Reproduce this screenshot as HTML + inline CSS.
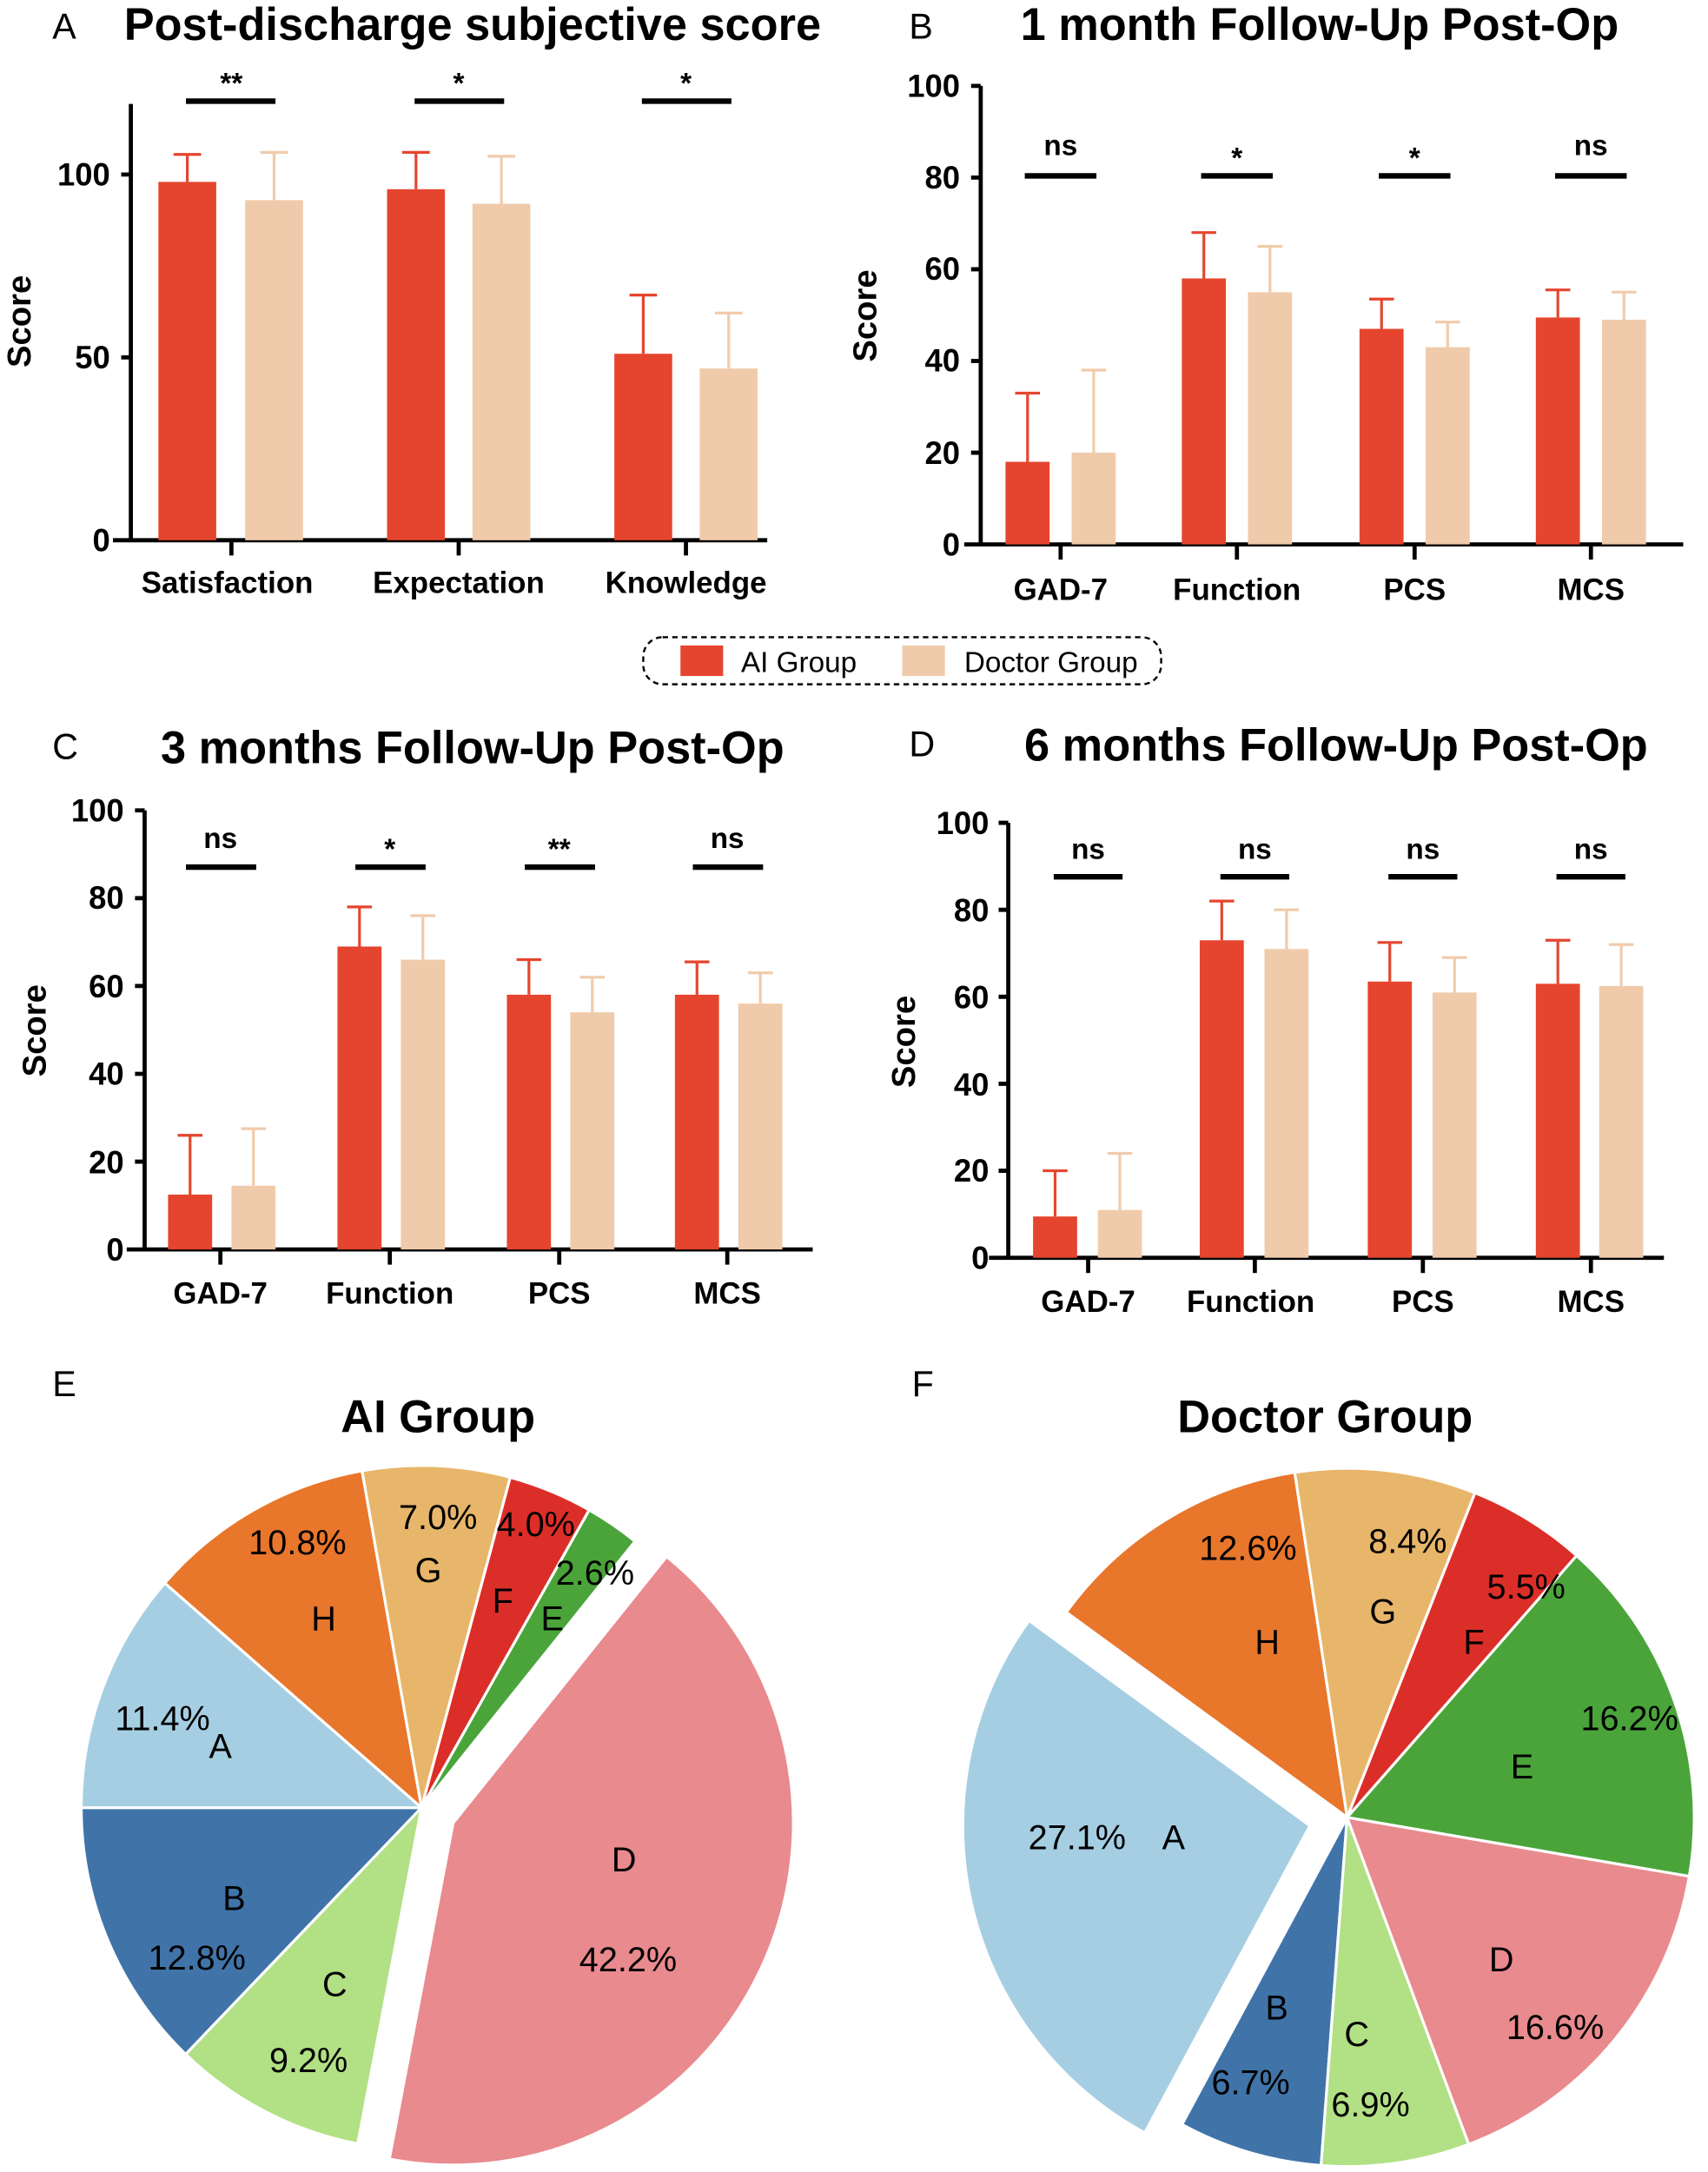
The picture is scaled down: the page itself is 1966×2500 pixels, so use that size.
<!DOCTYPE html>
<html><head><meta charset="utf-8"><style>
html,body{margin:0;padding:0;background:#fff}
svg{display:block}
text{font-family:"Liberation Sans",Arial,sans-serif}
.t{font-weight:bold;font-size:33px}
.pl{font-size:26px}
.tk{font-weight:bold;font-size:23px;text-anchor:end}
.cl{font-weight:bold;font-size:22px;text-anchor:middle}
.sc{font-weight:bold;font-size:24px;text-anchor:middle}
.sg{font-size:21px;font-weight:bold;text-anchor:middle}
.pt{font-size:25px;text-anchor:middle}
.a{fill:#e5452e}.d{fill:#f0cbab}
.ea{stroke:#e5452e;stroke-width:2;fill:none}.ed{stroke:#f0cbab;stroke-width:2;fill:none}
.ax{stroke:#000;stroke-width:3;fill:none}
.sl{stroke:#000;stroke-width:4}
</style></head><body>
<svg width="1966" height="2500" viewBox="0 0 1240 1568" preserveAspectRatio="none" xmlns="http://www.w3.org/2000/svg">
<!-- Panel A -->
<text x="38" y="28" class="pl">A</text>
<text x="90" y="29" class="t">Post-discharge subjective score</text>
<path class="ax" d="M95 75V390M82 390H557M88 126H95M88 258H95M168 390V401M333 390V401M498 390V401"/>
<text x="80" y="134" class="tk">100</text><text x="80" y="266" class="tk">50</text><text x="80" y="398" class="tk">0</text>
<text class="sc" transform="translate(22,232) rotate(-90)">Score</text>
<text x="165" y="428" class="cl">Satisfaction</text><text x="333" y="428" class="cl">Expectation</text><text x="498" y="428" class="cl">Knowledge</text>
<rect class="a" x="115" y="131.3" width="42" height="258.7"/><path class="ea" d="M136 131.3V111.5M126 111.5H146"/>
<rect class="d" x="178" y="144.5" width="42" height="245.5"/><path class="ed" d="M199 144.5V110M189 110H209"/>
<rect class="a" x="281" y="136.6" width="42" height="253.4"/><path class="ea" d="M302 136.6V110M292 110H312"/>
<rect class="d" x="343" y="147.1" width="42" height="242.9"/><path class="ed" d="M364 147.1V112.8M354 112.8H374"/>
<rect class="a" x="446" y="255.4" width="42" height="134.6"/><path class="ea" d="M467 255.4V213M457 213H477"/>
<rect class="d" x="508" y="266" width="42" height="124"/><path class="ed" d="M529 266V226M519 226H539"/>
<path class="sl" d="M135 73H200M301 73H366M466 73H531"/>
<text x="168" y="67" class="sg">**</text><text x="333" y="67" class="sg">*</text><text x="498" y="67" class="sg">*</text>

<!-- Panel B -->
<text x="660" y="28" class="pl">B</text>
<text x="958" y="29" class="t" text-anchor="middle">1 month Follow-Up Post-Op</text>
<path class="ax" d="M712 62V393M700 393H1222M705 62H712M705 128.2H712M705 194.4H712M705 260.6H712M705 326.8H712M770 393V404M898 393V404M1027 393V404M1155 393V404"/>
<text x="697" y="70" class="tk">100</text><text x="697" y="136" class="tk">80</text><text x="697" y="202" class="tk">60</text><text x="697" y="268" class="tk">40</text><text x="697" y="335" class="tk">20</text><text x="697" y="401" class="tk">0</text>
<text class="sc" transform="translate(636,228) rotate(-90)">Score</text>
<text x="770" y="433" class="cl">GAD-7</text><text x="898" y="433" class="cl">Function</text><text x="1027" y="433" class="cl">PCS</text><text x="1155" y="433" class="cl">MCS</text>
<rect class="a" x="730" y="333.4" width="32" height="59.6"/><path class="ea" d="M746 333.4V283.8M737 283.8H755"/>
<rect class="d" x="778" y="326.8" width="32" height="66.2"/><path class="ed" d="M794 326.8V267.2M785 267.2H803"/>
<rect class="a" x="858" y="201" width="32" height="192"/><path class="ea" d="M874 201V167.9M865 167.9H883"/>
<rect class="d" x="906" y="211" width="32" height="182"/><path class="ed" d="M922 211V177.9M913 177.9H931"/>
<rect class="a" x="987" y="237.4" width="32" height="155.6"/><path class="ea" d="M1003 237.4V215.9M994 215.9H1012"/>
<rect class="d" x="1035" y="250.7" width="32" height="142.3"/><path class="ed" d="M1051 250.7V232.5M1042 232.5H1060"/>
<rect class="a" x="1115" y="229.2" width="32" height="163.8"/><path class="ea" d="M1131 229.2V209.3M1122 209.3H1140"/>
<rect class="d" x="1163" y="230.8" width="32" height="162.2"/><path class="ed" d="M1179 230.8V210.9M1170 210.9H1188"/>
<path class="sl" d="M744 127H796M872 127H924M1001 127H1053M1129 127H1181"/>
<text x="770" y="112" class="sg">ns</text><text x="898" y="121" class="sg">*</text><text x="1027" y="121" class="sg">*</text><text x="1155" y="112" class="sg">ns</text>

<!-- Legend -->
<rect x="467" y="460" width="376" height="34" rx="14" fill="none" stroke="#000" stroke-width="1.5" stroke-dasharray="4,3"/>
<rect x="494" y="466" width="31" height="22" class="a"/><text x="538" y="485" style="font-size:21px">AI Group</text>
<rect x="655" y="466" width="31" height="22" class="d"/><text x="700" y="485" style="font-size:21px">Doctor Group</text>

<!-- Panel C -->
<text x="38" y="548" class="pl">C</text>
<text x="343" y="551" class="t" text-anchor="middle">3 months Follow-Up Post-Op</text>
<path class="ax" d="M105 585V902M92 902H590M98 585H105M98 648.4H105M98 711.8H105M98 775.2H105M98 838.6H105M160 902V913M283 902V913M406 902V913M528 902V913"/>
<text x="90" y="593" class="tk">100</text><text x="90" y="656" class="tk">80</text><text x="90" y="720" class="tk">60</text><text x="90" y="783" class="tk">40</text><text x="90" y="847" class="tk">20</text><text x="90" y="910" class="tk">0</text>
<text class="sc" transform="translate(33,744) rotate(-90)">Score</text>
<text x="160" y="941" class="cl">GAD-7</text><text x="283" y="941" class="cl">Function</text><text x="406" y="941" class="cl">PCS</text><text x="528" y="941" class="cl">MCS</text>
<rect class="a" x="122" y="862.4" width="32" height="39.6"/><path class="ea" d="M138 862.4V819.6M129 819.6H147"/>
<rect class="d" x="168" y="856" width="32" height="46"/><path class="ed" d="M184 856V814.8M175 814.8H193"/>
<rect class="a" x="245" y="683.3" width="32" height="218.7"/><path class="ea" d="M261 683.3V654.7M252 654.7H270"/>
<rect class="d" x="291" y="692.8" width="32" height="209.2"/><path class="ed" d="M307 692.8V661M298 661H316"/>
<rect class="a" x="368" y="718.1" width="32" height="183.9"/><path class="ea" d="M384 718.1V692.8M375 692.8H393"/>
<rect class="d" x="414" y="730.8" width="32" height="171.2"/><path class="ed" d="M430 730.8V705.5M421 705.5H439"/>
<rect class="a" x="490" y="718.1" width="32" height="183.9"/><path class="ea" d="M506 718.1V694.4M497 694.4H515"/>
<rect class="d" x="536" y="724.5" width="32" height="177.5"/><path class="ed" d="M552 724.5V702.3M543 702.3H561"/>
<path class="sl" d="M135 626H186M258 626H309M381 626H432M503 626H554"/>
<text x="160" y="612" class="sg">ns</text><text x="283" y="620" class="sg">*</text><text x="406" y="620" class="sg">**</text><text x="528" y="612" class="sg">ns</text>

<!-- Panel D -->
<text x="660" y="546" class="pl">D</text>
<text x="970" y="549" class="t" text-anchor="middle">6 months Follow-Up Post-Op</text>
<path class="ax" d="M732 594V908M718 908H1208M725 594H732M725 656.8H732M725 719.6H732M725 782.4H732M725 845.2H732M790 908V919M911 908V919M1033 908V919M1155 908V919"/>
<text x="718" y="602" class="tk">100</text><text x="718" y="665" class="tk">80</text><text x="718" y="728" class="tk">60</text><text x="718" y="791" class="tk">40</text><text x="718" y="853" class="tk">20</text><text x="718" y="916" class="tk">0</text>
<text class="sc" transform="translate(664,752) rotate(-90)">Score</text>
<text x="790" y="947" class="cl">GAD-7</text><text x="908" y="947" class="cl">Function</text><text x="1033" y="947" class="cl">PCS</text><text x="1155" y="947" class="cl">MCS</text>
<rect class="a" x="750" y="878.2" width="32" height="29.8"/><path class="ea" d="M766 878.2V845.2M757 845.2H775"/>
<rect class="d" x="797" y="873.5" width="32" height="34.5"/><path class="ed" d="M813 873.5V832.6M804 832.6H822"/>
<rect class="a" x="871" y="678.8" width="32" height="229.2"/><path class="ea" d="M887 678.8V650.5M878 650.5H896"/>
<rect class="d" x="918" y="685.1" width="32" height="222.9"/><path class="ed" d="M934 685.1V656.8M925 656.8H943"/>
<rect class="a" x="993" y="708.6" width="32" height="199.4"/><path class="ea" d="M1009 708.6V680.4M1000 680.4H1018"/>
<rect class="d" x="1040" y="716.5" width="32" height="191.5"/><path class="ed" d="M1056 716.5V691.3M1047 691.3H1065"/>
<rect class="a" x="1115" y="710.2" width="32" height="197.8"/><path class="ea" d="M1131 710.2V678.8M1122 678.8H1140"/>
<rect class="d" x="1161" y="711.8" width="32" height="196.2"/><path class="ed" d="M1177 711.8V681.9M1168 681.9H1186"/>
<path class="sl" d="M765 633H815M886 633H936M1008 633H1058M1130 633H1180"/>
<text x="790" y="620" class="sg">ns</text><text x="911" y="620" class="sg">ns</text><text x="1033" y="620" class="sg">ns</text><text x="1155" y="620" class="sg">ns</text>

<!-- Pie E -->
<text x="38" y="1008" class="pl">E</text>
<text x="318" y="1034" class="t" text-anchor="middle">AI Group</text>
<g stroke="#fff" stroke-width="2">
<path fill="#4074a9" d="M306 1305L59 1305A247 247 0 0 0 134.8 1483Z"/>
<path fill="#b2e085" d="M306 1305L134.8 1483A247 247 0 0 0 259.7 1547.6Z"/>
<path fill="#e98a8e" d="M329 1316L282.7 1558.6A247 247 0 0 0 484 1123.7Z"/>
<path fill="#4aa43a" d="M306 1305L461 1112.7A247 247 0 0 0 427.7 1090.1Z"/>
<path fill="#dc2e28" d="M306 1305L427.7 1090.1A247 247 0 0 0 370.4 1066.5Z"/>
<path fill="#e8b66a" d="M306 1305L370.4 1066.5A247 247 0 0 0 262.8 1061.8Z"/>
<path fill="#e8762b" d="M306 1305L262.8 1061.8A247 247 0 0 0 119.6 1142.9Z"/>
<path fill="#a6cee3" d="M306 1305L119.6 1142.9A247 247 0 0 0 59 1305Z"/>
</g>
<text x="216" y="1122" class="pt">10.8%</text><text x="235" y="1177" class="pt">H</text>
<text x="318" y="1104" class="pt">7.0%</text><text x="311" y="1142" class="pt">G</text>
<text x="389" y="1109" class="pt">4.0%</text><text x="365" y="1164" class="pt">F</text>
<text x="432" y="1144" class="pt">2.6%</text><text x="401" y="1177" class="pt">E</text>
<text x="118" y="1249" class="pt">11.4%</text><text x="160" y="1269" class="pt">A</text>
<text x="170" y="1379" class="pt">B</text><text x="143" y="1422" class="pt">12.8%</text>
<text x="243" y="1441" class="pt">C</text><text x="224" y="1496" class="pt">9.2%</text>
<text x="453" y="1351" class="pt">D</text><text x="456" y="1423" class="pt">42.2%</text>

<!-- Pie F -->
<text x="662" y="1008" class="pl">F</text>
<text x="962" y="1034" class="t" text-anchor="middle">Doctor Group</text>
<g stroke="#fff" stroke-width="2">
<path fill="#a6cee3" d="M951 1318L747.1 1169.9A252 252 0 0 0 831.1 1539.7Z"/>
<path fill="#4074a9" d="M978 1312L858.1 1533.7A252 252 0 0 0 959.1 1563.3Z"/>
<path fill="#b2e085" d="M978 1312L959.1 1563.3A252 252 0 0 0 1066.3 1548Z"/>
<path fill="#e98a8e" d="M978 1312L1066.3 1548A252 252 0 0 0 1226.4 1354.5Z"/>
<path fill="#4aa43a" d="M978 1312L1226.4 1354.5A252 252 0 0 0 1144.6 1123Z"/>
<path fill="#dc2e28" d="M978 1312L1144.6 1123A252 252 0 0 0 1070.8 1077.7Z"/>
<path fill="#e8b66a" d="M978 1312L1070.8 1077.7A252 252 0 0 0 939.9 1062.9Z"/>
<path fill="#e8762b" d="M978 1312L939.9 1062.9A252 252 0 0 0 774.1 1163.9Z"/>
</g>
<text x="906" y="1126" class="pt">12.6%</text><text x="920" y="1194" class="pt">H</text>
<text x="1022" y="1121" class="pt">8.4%</text><text x="1004" y="1172" class="pt">G</text>
<text x="1108" y="1154" class="pt">5.5%</text><text x="1070" y="1194" class="pt">F</text>
<text x="1183" y="1249" class="pt">16.2%</text><text x="1105" y="1284" class="pt">E</text>
<text x="782" y="1335" class="pt">27.1%</text><text x="852" y="1335" class="pt">A</text>
<text x="927" y="1458" class="pt">B</text><text x="908" y="1512" class="pt">6.7%</text>
<text x="985" y="1477" class="pt">C</text><text x="995" y="1528" class="pt">6.9%</text>
<text x="1090" y="1423" class="pt">D</text><text x="1129" y="1472" class="pt">16.6%</text>
</svg>
</body></html>
